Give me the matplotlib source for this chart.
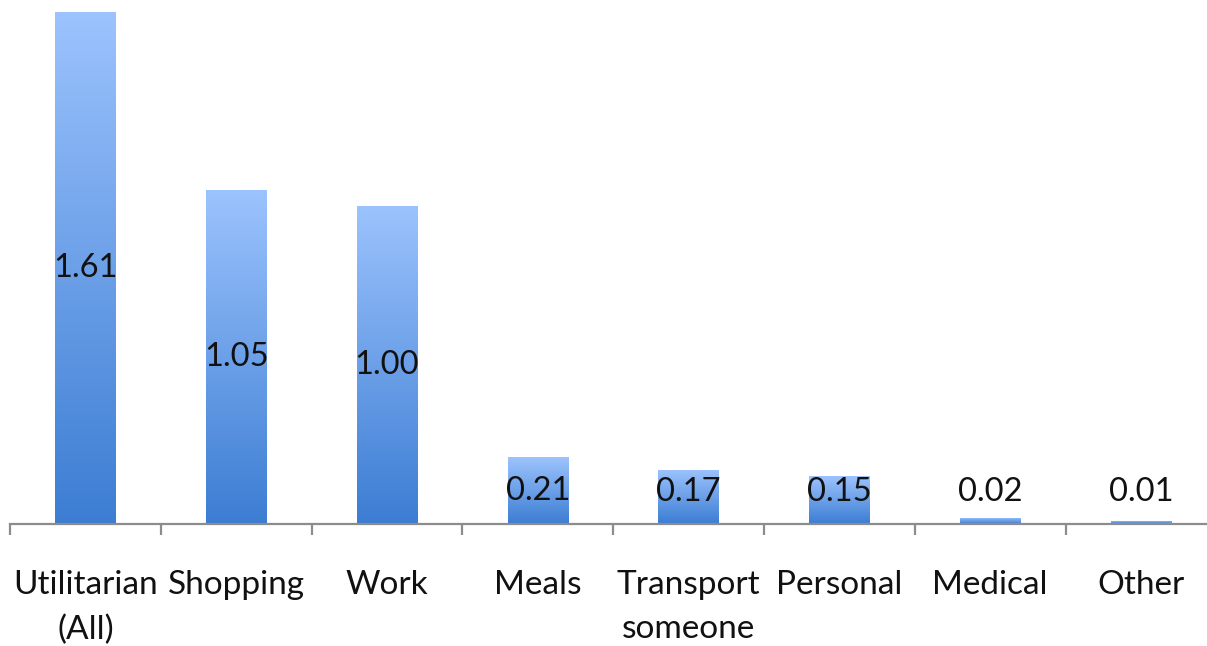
import matplotlib
matplotlib.use("Agg")
import matplotlib.pyplot as plt
import numpy as np
from matplotlib.colors import LinearSegmentedColormap

categories = ["Utilitarian\n(All)", "Shopping", "Work", "Meals", "Transport\nsomeone",
              "Personal", "Medical", "Other"]
values = [1.61, 1.05, 1.00, 0.21, 0.17, 0.15, 0.02, 0.01]
value_labels = ["1.61", "1.05", "1.00", "0.21", "0.17", "0.15", "0.02", "0.01"]

plt.rcParams['font.family'] = ['Lato', 'DejaVu Sans']

W, H = 1207, 646
fig = plt.figure(figsize=(W / 100, H / 100), dpi=100)
left_px, right_px = 10, 10 + 8 * 150.8
top_px, bot_px = 12, 524
ax = fig.add_axes([left_px / W, (H - bot_px) / H, (right_px - left_px) / W, (bot_px - top_px) / H])

cmap = LinearSegmentedColormap.from_list("g", ["#3c7dd3", "#9cc3fd"])
grad = np.linspace(0, 1, 256).reshape(-1, 1)
x = np.arange(len(categories))
bw = 0.4
for xi, v in zip(x, values):
    bars = ax.bar(xi, v, width=bw, color="none", edgecolor="none")
    im = ax.imshow(grad, cmap=cmap, origin="lower", aspect="auto",
                   extent=[xi - bw / 2, xi + bw / 2, 0, v], zorder=2)
    im.set_clip_path(bars[0])

ax.set_xlim(-0.5, len(categories) - 0.5)
ax.set_ylim(0, 1.61)

for xi, v, lab in zip(x, values, value_labels):
    ax.text(xi, max(v / 2, 0.10), lab, ha="center", va="center", fontsize=23.5,
            color="#111111", zorder=3)

for s in ["top", "right", "left"]:
    ax.spines[s].set_visible(False)
ax.spines["bottom"].set_color("#8c8c8c")
ax.spines["bottom"].set_linewidth(1.6)
ax.set_yticks([])
ax.set_xticks(np.arange(-0.5, len(categories) + 0.5, 1.0))
ax.set_xticklabels([])
ax.tick_params(axis="x", which="major", length=8, width=1.6, color="#8c8c8c")
ax.set_xticks(x, minor=True)
ax.set_xticklabels(categories, minor=True, fontsize=24, color="#111111", linespacing=1.6)
ax.tick_params(axis="x", which="minor", length=0, pad=33)

fig.savefig("out.png", dpi=100)
